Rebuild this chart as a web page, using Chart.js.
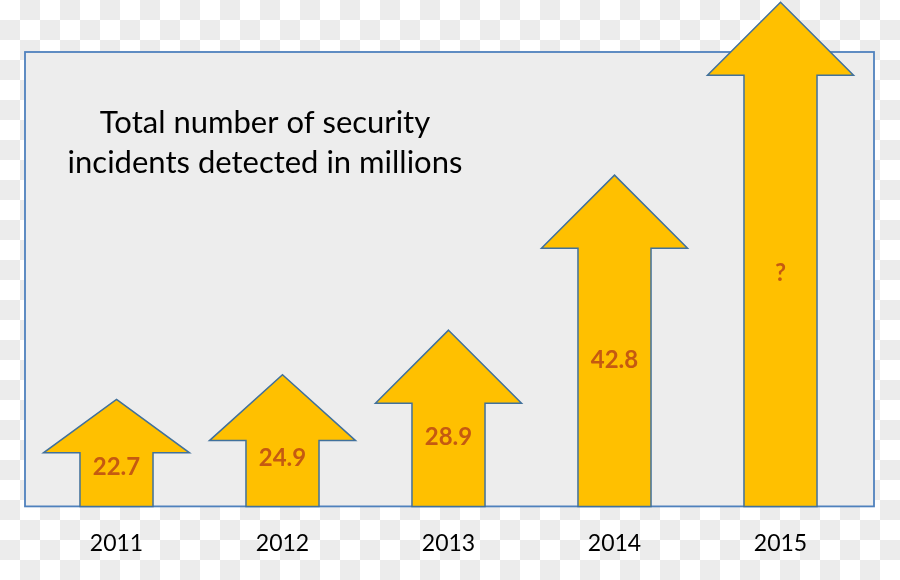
<!DOCTYPE html>
<html>
<head>
<meta charset="utf-8">
<script src="https://cdn.jsdelivr.net/npm/chart.js@4/dist/chart.umd.min.js"></script>
<style>
    body { margin: 0; background: #ffffff; }
    canvas { display: block; }
</style>
</head>
<body>
<canvas id="incidentsChart" width="900" height="580"></canvas>
<script>
// years on the x axis
const years = ['2011', '2012', '2013', '2014', '2015'];
// incidents in millions (2015 is unknown, its height)
const incidents = [22.7, 24.9, 28.9, 42.8, 58.3];
// text written inside each arrow
const arrowLabels = ['22.7', '24.9', '28.9', '42.8', '?'];
const titleLines = ['Total number of security', 'incidents detected in millions'];

// value axis range, arrows grow up from Y_MIN
const Y_MIN = 13.1;
const Y_MAX = 58.5;

const ARROW_FILL = '#FFC000';
const ARROW_LINE = '#41719C';
const LABEL_COLOR = '#C55A11';

// transparent-png style checker board behind everything
const checkerPlugin = {
    id: 'checker',
    beforeDraw(chart) {
        const ctx = chart.ctx;
        ctx.save();
        ctx.fillStyle = '#ffffff';
        ctx.fillRect(0, 0, chart.width, chart.height);
        ctx.fillStyle = '#ECECEC';
        for (let row = 0; row * 20 < chart.height; row++) {
            for (let col = 0; col * 20 < chart.width; col++) {
                if ((row + col) % 2 === 1) ctx.fillRect(col * 20, row * 20, 20, 20);
            }
        }
        ctx.restore();
    }
};

// grey panel with the title text
const panelPlugin = {
    id: 'panel',
    beforeDatasetsDraw(chart) {
        const ctx = chart.ctx;
        const area = chart.chartArea;
        ctx.save();
        ctx.fillStyle = '#EDEDED';
        ctx.strokeStyle = '#4F81BD';
        ctx.lineWidth = 1.8;
        ctx.fillRect(25, 52, 849, area.bottom - 52);
        ctx.strokeRect(25, 52, 849, area.bottom - 52);

        ctx.fillStyle = '#000000';
        ctx.font = '31px Lato, "Open Sans", sans-serif';
        ctx.textAlign = 'center';
        ctx.textBaseline = 'alphabetic';
        ctx.fillText(titleLines[0], 265, 133);
        ctx.fillText(titleLines[1], 265, 173);
        ctx.restore();
    }
};

// each bar is drawn as an up arrow, head twice as wide as the shaft
const arrowPlugin = {
    id: 'arrows',
    afterDatasetsDraw(chart) {
        const ctx = chart.ctx;
        const meta = chart.getDatasetMeta(0);
        ctx.save();
        meta.data.forEach((bar, i) => {
            const props = bar.getProps(['x', 'y', 'base', 'width'], true);
            const half = props.width / 2;
            const height = props.base - props.y;
            const head = Math.min(height / 2, props.width);
            const shoulder = props.y + head;

            ctx.beginPath();
            ctx.moveTo(props.x, props.y);
            ctx.lineTo(props.x + half * 2, shoulder);
            ctx.lineTo(props.x + half, shoulder);
            ctx.lineTo(props.x + half, props.base);
            ctx.lineTo(props.x - half, props.base);
            ctx.lineTo(props.x - half, shoulder);
            ctx.lineTo(props.x - half * 2, shoulder);
            ctx.closePath();
            ctx.fillStyle = ARROW_FILL;
            ctx.fill();
            ctx.strokeStyle = ARROW_LINE;
            ctx.lineWidth = 1.5;
            ctx.lineJoin = 'miter';
            ctx.stroke();

            ctx.fillStyle = LABEL_COLOR;
            ctx.font = 'bold 24px Lato, "Open Sans", sans-serif';
            ctx.textAlign = 'center';
            ctx.textBaseline = 'middle';
            ctx.fillText(arrowLabels[i], props.x, (props.y + head / 2 + props.base) / 2 + 1);
        });
        ctx.restore();
    }
};

const ctx = document.getElementById('incidentsChart').getContext('2d');
new Chart(ctx, {
    type: 'bar',
    data: {
        labels: years,
        datasets: [{
            label: 'Security incidents (millions)',
            data: incidents,
            base: Y_MIN,
            backgroundColor: 'rgba(0,0,0,0)',
            borderWidth: 0,
            barPercentage: 0.44,
            categoryPercentage: 1.0
        }]
    },
    options: {
        responsive: false,
        animation: false,
        devicePixelRatio: 1,
        layout: {
            padding: { left: 33.5, right: 36.5, top: 0, bottom: 0 }
        },
        plugins: {
            legend: { display: false },
            title: { display: false },
            tooltip: { enabled: false }
        },
        scales: {
            x: {
                grid: { display: false, drawTicks: false },
                border: { display: false },
                ticks: {
                    color: '#000000',
                    padding: 23,
                    font: { family: 'Lato', size: 23 }
                }
            },
            y: {
                display: false,
                min: Y_MIN,
                max: Y_MAX
            }
        }
    },
    plugins: [checkerPlugin, panelPlugin, arrowPlugin]
});
</script>
</body>
</html>
